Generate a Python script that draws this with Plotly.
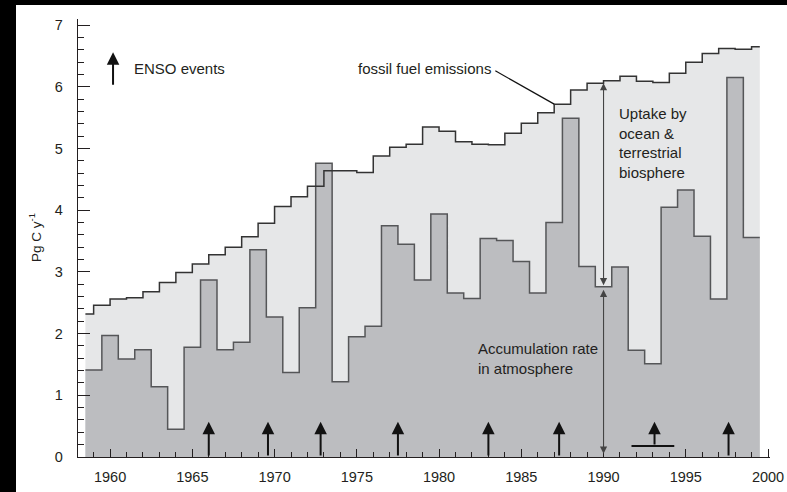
import plotly.graph_objects as go

# ---------------- data ----------------
ff_years = list(range(1958, 2000))
ff_values = [2.32, 2.46, 2.56, 2.58, 2.68, 2.83, 2.99, 3.13, 3.28, 3.40,
             3.57, 3.79, 4.06, 4.22, 4.39, 4.64, 4.64, 4.61, 4.88, 5.02,
             5.07, 5.35, 5.28, 5.11, 5.07, 5.06, 5.25, 5.41, 5.58, 5.72,
             5.95, 6.06, 6.10, 6.17, 6.09, 6.07, 6.22, 6.40, 6.54, 6.62,
             6.61, 6.65]

atm_years = list(range(1959, 2000))
atm_values = [1.41, 1.97, 1.59, 1.74, 1.14, 0.45, 1.78, 2.87, 1.74, 1.86,
              3.36, 2.27, 1.37, 2.42, 4.76, 1.22, 1.95, 2.12, 3.75, 3.45,
              2.87, 3.94, 2.66, 2.57, 3.54, 3.51, 3.17, 2.66, 3.80, 5.49,
              3.09, 2.76, 3.08, 1.73, 1.51, 4.05, 4.33, 3.58, 2.56, 6.15,
              3.56]

enso_years = [1966.0, 1969.6, 1972.8, 1977.5, 1983.0, 1987.3, 1993.1, 1997.6]
enso_base = [0, 0, 0, 0, 0, 0, 0.18, 0]
enso_tip = 0.57
enso_1993_span = [1991.7, 1994.3]

x_ticks = [1960, 1965, 1970, 1975, 1980, 1985, 1990, 1995, 2000]
y_ticks = [0, 1, 2, 3, 4, 5, 6, 7]

# ---------------- derived step paths ----------------
start = atm_years[0] - 0.5
end = atm_years[-1] + 0.5
ff_x = [start] + ff_years[1:] + [end]
ff_y = ff_values + [ff_values[-1]]
atm_x = [y - 0.5 for y in atm_years] + [end]
atm_y = atm_values + [atm_values[-1]]

INK = "#231f20"
FONT = "Liberation Sans, Arial, sans-serif"
W, H = 787, 492
ML, MR, MT, MB = 78, 17, 19, 35
PW, PH = W - ML - MR, H - MT - MB

fig = go.Figure()
fig.add_trace(go.Scatter(x=ff_x, y=ff_y, mode="lines", line_shape="hv",
                         fill="tozeroy", fillcolor="#e6e7e8",
                         line=dict(width=0, color="rgba(0,0,0,0)"),
                         hoverinfo="skip", showlegend=False))
fig.add_trace(go.Scatter(x=atm_x, y=atm_y, mode="lines", line_shape="hv",
                         fill="tozeroy", fillcolor="#bcbdc0",
                         line=dict(width=1.5, color="#555658"),
                         showlegend=False))
fig.add_trace(go.Scatter(x=ff_x, y=ff_y, mode="lines", line_shape="hv",
                         line=dict(width=1.5, color="#333333"),
                         showlegend=False))

annotations = []
shapes = []

# ENSO arrows
for xe, base in zip(enso_years, enso_base):
    annotations.append(dict(x=xe, y=enso_tip, ax=xe, ay=base, xref="x", yref="y",
                            axref="x", ayref="y", showarrow=True, arrowhead=2,
                            arrowsize=1.25, arrowwidth=2, arrowcolor="#111", text=""))
shapes.append(dict(type="line", xref="x", yref="y", x0=enso_1993_span[0],
                   x1=enso_1993_span[1], y0=enso_base[6], y1=enso_base[6],
                   line=dict(color="#111", width=2)))

# ENSO legend
annotations.append(dict(x=1960.18, y=6.56, ax=1960.18, ay=6.01, xref="x", yref="y",
                        axref="x", ayref="y", showarrow=True, arrowhead=2,
                        arrowsize=1.25, arrowwidth=2, arrowcolor="#111", text=""))
annotations.append(dict(x=1961.34, y=6.29, xref="x", yref="y", text="ENSO events",
                        showarrow=False, xanchor="left", yanchor="middle",
                        font=dict(family=FONT, size=15, color=INK)))

# fossil fuel label + leader line
i1987 = ff_years.index(1987)
annotations.append(dict(x=1983.3, y=6.29, xref="x", yref="y",
                        text="fossil fuel emissions", showarrow=False,
                        xanchor="right", yanchor="middle",
                        font=dict(family=FONT, size=15, color=INK)))
shapes.append(dict(type="line", xref="x", yref="y", x0=1983.42, y0=6.26,
                   x1=ff_years[i1987], y1=ff_values[i1987],
                   line=dict(color="#111", width=1.2)))

# uptake / accumulation double arrows at 1990
i1990 = atm_years.index(1990)
ff1990 = ff_values[ff_years.index(1989)]
annotations.append(dict(x=1990, y=ff1990, ax=1990, ay=atm_values[i1990],
                        xref="x", yref="y", axref="x", ayref="y", showarrow=True,
                        arrowside="end+start", arrowhead=2, startarrowhead=2,
                        arrowsize=1.3, startarrowsize=1.3, arrowwidth=1.1,
                        arrowcolor="#444", text=""))
annotations.append(dict(x=1990, y=atm_values[i1990] - 0.05, ax=1990, ay=0.03,
                        xref="x", yref="y", axref="x", ayref="y", showarrow=True,
                        arrowside="end+start", arrowhead=2, startarrowhead=2,
                        arrowsize=1.3, startarrowsize=1.3, arrowwidth=1.1,
                        arrowcolor="#444", text=""))
annotations.append(dict(x=1990.8, y=5.09, xref="x", yref="y",
                        text="Uptake by<br>ocean &amp;<br>terrestrial<br>biosphere",
                        showarrow=False, xanchor="left", yanchor="middle", align="left",
                        font=dict(family=FONT, size=15, color=INK)))
annotations.append(dict(x=1982.25, y=1.59, xref="x", yref="y",
                        text="Accumulation rate<br>in atmosphere",
                        showarrow=False, xanchor="left", yanchor="middle", align="left",
                        font=dict(family=FONT, size=15, color=INK)))

# y-axis title
annotations.append(dict(x=-43 / PW, y=0.5, xref="paper", yref="paper",
                        text="Pg C y<sup>-1</sup>", textangle=-90, showarrow=False,
                        xanchor="center", yanchor="middle",
                        font=dict(family=FONT, size=13.5, color=INK)))

# black frame edges of the original scan (kept inside the figure bounds)
TOP = (PH + MT) / PH
shapes.append(dict(type="rect", xref="paper", yref="paper",
                   x0=-ML / PW, x1=(16 - ML) / PW, y0=-MB / PH, y1=TOP,
                   fillcolor="black", line=dict(width=0), layer="above"))
shapes.append(dict(type="rect", xref="paper", yref="paper",
                   x0=-ML / PW, x1=(W - ML) / PW, y0=(PH + MT - 5) / PH, y1=TOP,
                   fillcolor="black", line=dict(width=0), layer="above"))

fig.update_layout(
    width=W, height=H,
    margin=dict(l=ML, r=MR, t=MT, b=MB, autoexpand=False),
    paper_bgcolor="white", plot_bgcolor="white",
    font=dict(family=FONT, color=INK),
    showlegend=False,
    annotations=annotations, shapes=shapes,
    xaxis=dict(range=[1958.05, 2000.12], tickvals=x_ticks, ticks="inside",
               ticklen=8, tickwidth=1.3, tickcolor=INK, ticklabelstandoff=6,
               automargin=False,
               minor=dict(dtick=1, tick0=1960, ticks="inside", ticklen=5,
                          tickwidth=1, tickcolor=INK),
               showline=True, linecolor=INK, linewidth=1.4,
               showgrid=False, zeroline=False,
               tickfont=dict(family=FONT, size=14.5, color=INK)),
    yaxis=dict(range=[0, 7.1], tickvals=y_ticks, ticks="inside",
               ticklen=12, tickwidth=1.3, tickcolor=INK, ticklabelstandoff=11,
               automargin=False,
               minor=dict(dtick=0.2, tick0=0, ticks="inside", ticklen=6,
                          tickwidth=1, tickcolor=INK),
               showline=True, linecolor=INK, linewidth=1.4,
               showgrid=False, zeroline=False,
               tickfont=dict(family=FONT, size=14.5, color=INK)),
)

fig.write_html(
    "out.html",
    config={"displayModeBar": False},
    post_script=(
        "document.documentElement.style.background='white';"
        "document.documentElement.style.overflow='hidden';"
        "document.documentElement.style.margin='0';"
        "document.body.style.background='white';"
        "document.body.style.margin='0';"
        "document.body.style.overflow='hidden';"
    ),
)
